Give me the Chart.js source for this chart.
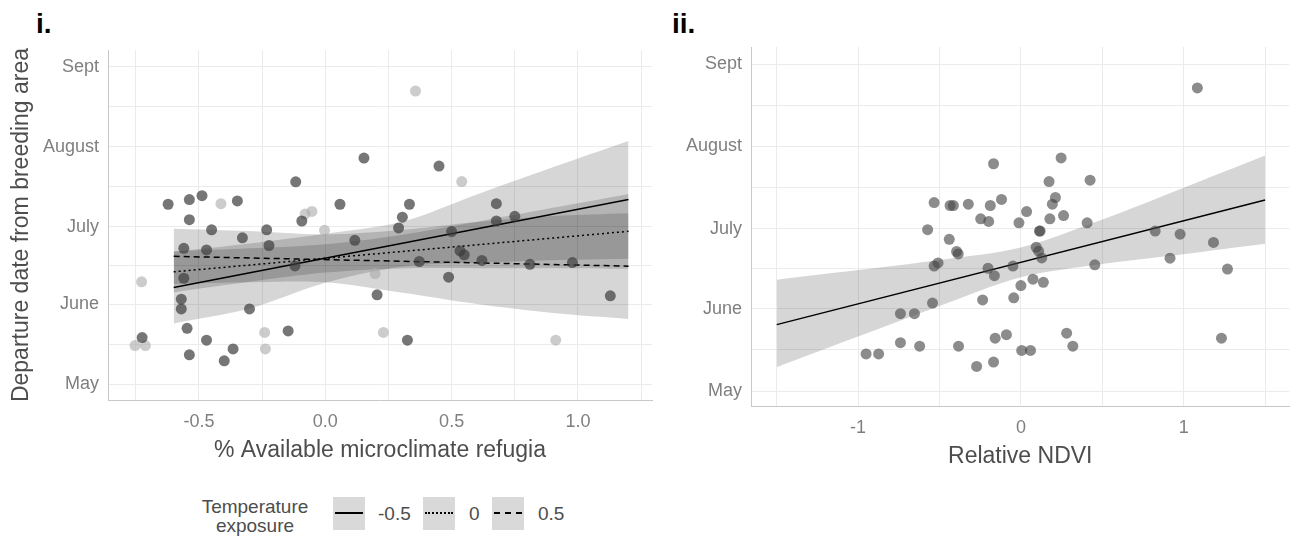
<!DOCTYPE html>
<html>
<head>
<meta charset="utf-8">
<script src="https://cdn.jsdelivr.net/npm/chart.js@4.4.0/dist/chart.umd.min.js"></script>
<style>
  body { margin: 0; background: #fff; width: 1295px; height: 541px; overflow: hidden; position: relative;
         font-family: "Liberation Sans", Arial, sans-serif; }
  canvas { position: absolute; top: 0; }
  #leftChart { left: 0; }
  #rightChart { left: 660px; }
  .tag { position: absolute; top: 8px; font-size: 28px; font-weight: bold; color: #000; }
  .ltitle { position: absolute; left: 183px; top: 497px; width: 144px; text-align: center;
            font-size: 19px; line-height: 19px; color: #4d4d4d; }
  .key { position: absolute; top: 497px; width: 32px; height: 33px; background: #d9d9d9; }
  .key span { position: absolute; left: 2px; top: 15px; width: 28px; height: 0; border-top: 2px solid #000; }
  .key span.dot { border-top-style: dotted; }
  .key span.dash { border-top-style: dashed; }
  .ltext { position: absolute; top: 497px; line-height: 33px; font-size: 19px; color: #4d4d4d; }
</style>
</head>
<body>
<div class="tag" style="left:36px">i.</div>
<div class="tag" style="left:672px">ii.</div>
<canvas id="leftChart" width="660" height="470"></canvas>
<canvas id="rightChart" width="635" height="470"></canvas>

<div class="ltitle">Temperature<br>exposure</div>
<div class="key" style="left:333px"><span></span></div>
<div class="ltext" style="left:378px">-0.5</div>
<div class="key" style="left:423px"><span class="dot"></span></div>
<div class="ltext" style="left:469px">0</div>
<div class="key" style="left:492px"><span class="dash"></span></div>
<div class="ltext" style="left:538px">0.5</div>

<script>
// y values are days after 1 May
const monthTicks = [0, 31, 61, 92, 123];
const monthLabels = ['May', 'June', 'July', 'August', 'Sept'];
const monthMinor = [15.5, 46, 76.5, 107.5];

// panel i: % available microclimate refugia
const leftTicks = [-0.5, 0, 0.5, 1.0];
const leftTickLabels = ['-0.5', '0.0', '0.5', '1.0'];
const leftMinor = [-0.75, -0.25, 0.25, 0.75, 1.25];

const leftDarkX = [-0.622, -0.538, -0.488, -0.348, -0.538, -0.45, -0.328, -0.232, -0.223, -0.56, -0.47, -0.56,
  -0.57, -0.57, -0.30, -0.547, -0.725, -0.47, -0.365, -0.538, -0.40, -0.147, -0.117, -0.093, 0.058, 0.117,
  0.153, -0.12, 0.205, 0.29, 0.305, 0.333, 0.325, 0.372, 0.45, 0.488, 0.5, 0.533, 0.55, 0.62, 0.677, 0.677,
  0.75, 0.81, 0.978, 1.128];
const leftDarkY = [69.7, 71.5, 73.0, 71.0, 63.7, 59.8, 56.7, 59.8, 53.7, 52.6, 52.0, 41.0,
  32.9, 29.1, 29.1, 21.6, 18.0, 17.0, 13.6, 11.3, 9.0, 20.6, 78.4, 63.2, 69.7, 55.7,
  87.6, 45.8, 34.6, 60.5, 64.7, 69.7, 17.0, 47.5, 84.5, 41.4, 59.1, 51.6, 50.1, 47.9, 69.9, 63.2,
  65.0, 46.4, 47.1, 34.2];
const leftLightX = [0.357, 0.54, -0.413, -0.08, -0.053, -0.003, -0.727, -0.753, -0.712, -0.24, -0.237, 0.23, 0.197, 0.912];
const leftLightY = [113.6, 78.5, 69.9, 65.9, 66.9, 59.6, 39.6, 14.9, 14.9, 20.0, 13.6, 20.0, 42.8, 17.0];

// fitted lines and confidence ribbons per temperature exposure
const fitX = [-0.6, 1.2];
const solidFit = [37.4, 71.5];   // -0.5
const dottedFit = [43.5, 59.2];  // 0
const dashedFit = [49.5, 45.7];  // 0.5
const ribbonX = [-0.6, -0.3, 0, 0.3, 0.6, 0.9, 1.2];
const solidUpper = [51.3, 54.5, 58.3, 62.8, 73.5, 84.0, 94.2];
const solidLower = [23.5, 29.3, 39.3, 45.5, 47.0, 48.0, 48.6];
const dottedUpper = [51.5, 52.6, 54.2, 57.8, 62.9, 68.3, 73.7];
const dottedLower = [35.5, 39.6, 43.2, 44.8, 44.9, 44.9, 44.7];
const dashedUpper = [60.2, 59.3, 58.0, 59.7, 62.8, 65.1, 66.2];
const dashedLower = [38.8, 39.5, 39.5, 35.5, 31.0, 27.5, 25.2];

// panel ii: relative NDVI
const rightTicks = [-1, 0, 1];
const rightTickLabels = ['-1', '0', '1'];
const rightMinor = [-1.5, -0.5, 0.5, 1.5];

const ndviX = [1.084, 0.247, -0.168, 0.173, 0.425, -0.533, -0.435, -0.415, -0.323, -0.188, -0.119, 0.212, 0.193,
  0.035, -0.247, -0.198, -0.012, 0.178, 0.262, 0.407, 0.114, -0.573, -0.44, -0.395, -0.385, 0.094, 0.109, 0.128,
  -0.533, -0.509, -0.202, -0.163, -0.049, 0.454, 0.074, 0.138, 0, 0.825, 0.978, 1.183, 0.916, 1.269, -0.235,
  -0.044, -0.543, -0.74, -0.654, -0.74, -0.622, -0.383, -0.158, -0.089, 0.281, 0.319, 0.005, 0.059, -0.951,
  -0.874, -0.168, -0.272, 1.232, 0.118];
const ndviY = [114.0, 87.7, 85.5, 78.8, 79.3, 70.9, 69.8, 69.8, 70.3, 69.8, 72.1, 72.8, 70.3,
  67.5, 64.8, 63.8, 63.3, 64.8, 66.0, 63.3, 60.2, 60.7, 57.1, 52.5, 51.6, 54.1, 52.6, 50.1,
  47.0, 48.2, 46.2, 43.4, 47.0, 47.5, 42.1, 40.9, 39.7, 60.2, 59.0, 55.9, 50.0, 45.9, 34.3,
  35.1, 33.1, 29.1, 29.1, 18.2, 16.9, 16.9, 19.9, 21.2, 21.8, 16.9, 15.3, 15.3, 14.0,
  14.0, 10.9, 9.3, 19.9, 60.2];

const ndviFitX = [-1.5, 1.5];
const ndviFit = [25.0, 71.9];
const ndviRibX = [-1.5, -1, -0.5, 0, 0.5, 1, 1.5];
const ndviUpper = [41.9, 45.5, 49.3, 54.0, 64.5, 76.5, 88.6];
const ndviLower = [9.0, 20.5, 32.0, 42.8, 47.8, 51.5, 55.4];

const pts = (xs, ys) => xs.map((x, i) => ({ x: x, y: ys[i] }));

const tickFont = { family: '"Liberation Sans", Arial, sans-serif', size: 18 };
const ribbonFill = 'rgba(0,0,0,0.16)';

function ribbon(xs, upper, lower) {
  return [
    { data: pts(xs, upper), fill: '+1', backgroundColor: ribbonFill, borderWidth: 0, pointRadius: 0, tension: 0.3, order: 3 },
    { data: pts(xs, lower), fill: false, borderWidth: 0, pointRadius: 0, tension: 0.3, order: 3 }
  ];
}

function fitLine(xs, ys, dash) {
  return { data: pts(xs, ys), borderColor: '#000', borderWidth: 1.5, borderDash: dash, pointRadius: 0, fill: false, order: 2 };
}

function scatter(xs, ys, color) {
  return { data: pts(xs, ys), showLine: false, pointRadius: 5.5, pointHoverRadius: 5.5,
           backgroundColor: color, borderWidth: 0, order: 1 };
}

function axes(cfg) {
  const gridColor = '#ebebeb';
  return {
    x: {
      type: 'linear', min: cfg.xMin, max: cfg.xMax,
      afterBuildTicks: (axis) => { axis.ticks = cfg.xTicks.concat(cfg.xMinor).sort((a, b) => a - b).map(v => ({ value: v })); },
      afterFit: (s) => { s.height = cfg.xHeight; },
      grid: { color: gridColor, lineWidth: 1, drawTicks: false },
      border: { display: true, color: '#c8c8c8', width: 1 },
      ticks: {
        autoSkip: false, maxRotation: 0, padding: 11, color: '#7f7f7f', font: tickFont,
        callback: (v) => { const i = cfg.xTicks.indexOf(v); return i < 0 ? '' : cfg.xLabels[i]; }
      },
      title: { display: true, text: cfg.xTitle, color: '#4d4d4d',
               font: { family: '"Liberation Sans", Arial, sans-serif', size: 23 },
               padding: { top: 0, bottom: cfg.xTitlePad } }
    },
    y: {
      type: 'linear', min: cfg.yMin, max: cfg.yMax,
      afterBuildTicks: (axis) => { axis.ticks = monthTicks.concat(monthMinor).sort((a, b) => a - b).map(v => ({ value: v })); },
      afterFit: (s) => { s.width = cfg.yWidth; },
      grid: { color: gridColor, lineWidth: 1, drawTicks: false },
      border: { display: true, color: '#c8c8c8', width: 1 },
      ticks: {
        autoSkip: false, padding: 9, color: '#7f7f7f', font: tickFont,
        callback: (v) => { const i = monthTicks.indexOf(v); return i < 0 ? '' : monthLabels[i]; }
      },
      title: { display: !!cfg.yTitle, text: cfg.yTitle, color: '#4d4d4d',
               font: { family: '"Liberation Sans", Arial, sans-serif', size: 23 },
               padding: { top: 8, bottom: 0 } }
    }
  };
}

const baseOptions = {
  responsive: false,
  animation: false,
  plugins: { legend: { display: false }, tooltip: { enabled: false } },
  events: []
};

new Chart(document.getElementById('leftChart'), {
  type: 'line',
  data: {
    datasets: [
      scatter(leftDarkX, leftDarkY, 'rgba(60,60,60,0.7)'),
      scatter(leftLightX, leftLightY, 'rgba(170,170,170,0.6)'),
      fitLine(fitX, solidFit, []),
      fitLine(fitX, dottedFit, [2, 3]),
      fitLine(fitX, dashedFit, [6, 4]),
      ...ribbon(ribbonX, solidUpper, solidLower),
      ...ribbon(ribbonX, dottedUpper, dottedLower),
      ...ribbon(ribbonX, dashedUpper, dashedLower)
    ]
  },
  options: Object.assign({}, baseOptions, {
    layout: { padding: { top: 50, right: 8, left: 0, bottom: 0 } },
    scales: axes({
      xMin: -0.86, xMax: 1.293, xTicks: leftTicks, xLabels: leftTickLabels, xMinor: leftMinor,
      xTitle: '% Available microclimate refugia', xHeight: 70, xTitlePad: 6,
      yMin: -6.2, yMax: 129.5, yWidth: 108, yTitle: 'Departure date from breeding area'
    })
  })
});

new Chart(document.getElementById('rightChart'), {
  type: 'line',
  data: {
    datasets: [
      scatter(ndviX, ndviY, 'rgba(70,70,70,0.62)'),
      fitLine(ndviFitX, ndviFit, []),
      ...ribbon(ndviRibX, ndviUpper, ndviLower)
    ]
  },
  options: Object.assign({}, baseOptions, {
    layout: { padding: { top: 47, right: 0, left: 0, bottom: 0 } },
    scales: axes({
      xMin: -1.658, xMax: 1.65, xTicks: rightTicks, xLabels: rightTickLabels, xMinor: rightMinor,
      xTitle: 'Relative NDVI', xHeight: 64, xTitlePad: 0,
      yMin: -5.6, yMax: 129.4, yWidth: 91, yTitle: ''
    })
  })
});
</script>
</body>
</html>
